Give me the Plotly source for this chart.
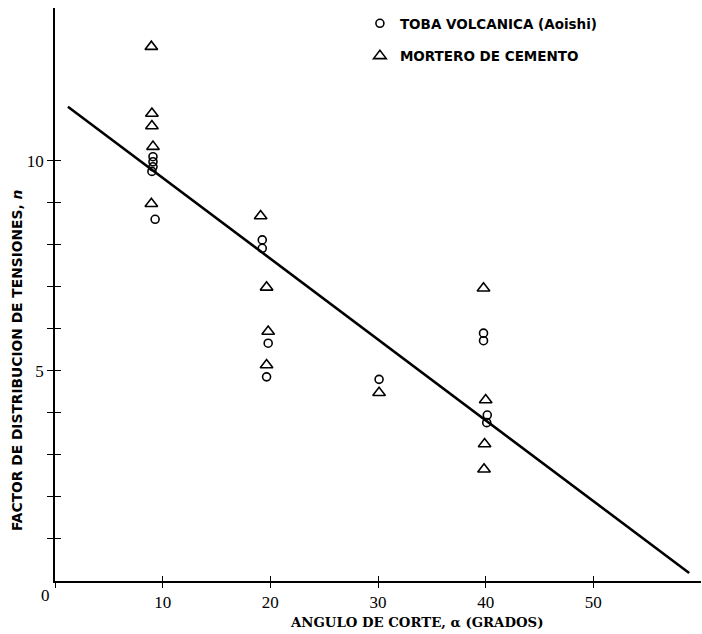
import plotly.graph_objects as go

# Data
toba_alpha = [9.1, 9.1, 9.1, 9.0, 9.3, 19.25, 19.25, 19.8, 19.65, 30.1, 39.8, 39.8, 40.15, 40.1]
toba_n = [10.10, 9.98, 9.86, 9.75, 8.61, 8.12, 7.92, 5.66, 4.86, 4.80, 5.90, 5.72, 3.95, 3.77]

mortero_alpha = [8.95, 9.0, 9.0, 9.1, 8.95, 19.1, 19.65, 19.8, 19.65, 30.1, 39.8, 40.0, 39.9, 39.85]
mortero_n = [12.72, 11.13, 10.83, 10.34, 8.98, 8.69, 6.99, 5.94, 5.14, 4.48, 6.97, 4.31, 3.26, 2.66]

fit_alpha = [1.2, 58.9]
fit_n = [11.29, 0.19]

x_tickvals = [0, 10, 20, 30, 40, 50]
x_ticktext = ["", "10", "20", "30", "40", "50"]
y_tickvals = [1, 2, 3, 4, 5, 6, 7, 8, 9, 10]
y_ticktext = ["", "", "", "", "5", "", "", "", "", "10"]

x_range = [0, 60]
y_range = [0, 13.64]

serif = "Liberation Serif"
sans = "DejaVu Sans"

fig = go.Figure()

fig.add_trace(go.Scatter(
    x=fit_alpha, y=fit_n, mode="lines",
    line=dict(color="black", width=2.6), showlegend=False, hoverinfo="skip"))

fig.add_trace(go.Scatter(
    x=toba_alpha, y=toba_n, mode="markers", name="<b>TOBA VOLCANICA (Aoishi)</b>",
    legendgroup="a",
    marker=dict(symbol="circle-open", size=8, color="black", line=dict(width=1.6))))

fig.add_trace(go.Scatter(
    x=mortero_alpha, y=mortero_n, mode="markers", name="<b>MORTERO DE CEMENTO</b>",
    legendgroup="b",
    marker=dict(symbol="triangle-up-open", size=11, color="black", line=dict(width=1.6))))

# empty trace for overlay axes (inner halves of crossing ticks)
fig.add_trace(go.Scatter(x=[None], y=[None], xaxis="x2", yaxis="y2",
                         showlegend=False, hoverinfo="skip"))

fig.update_layout(
    width=702, height=634,
    margin=dict(l=55, r=1, t=8, b=53),
    paper_bgcolor="white", plot_bgcolor="white",
    showlegend=True,
    legend=dict(x=0.472, y=1.0, xanchor="left", yanchor="top",
                font=dict(family=sans, size=13.5, color="black"),
                tracegroupgap=12, bgcolor="rgba(0,0,0,0)",
                itemsizing="trace"),
    xaxis=dict(range=x_range, tickvals=x_tickvals, ticktext=x_ticktext,
               showgrid=False, zeroline=False, showline=True, linecolor="black",
               linewidth=1.5, ticks="outside", ticklen=5, tickwidth=1.2,
               tickcolor="black", tickfont=dict(family=serif, size=17, color="black")),
    yaxis=dict(range=y_range, tickvals=y_tickvals, ticktext=y_ticktext,
               showgrid=False, zeroline=False, showline=True, linecolor="black",
               linewidth=1.8, ticks="outside", ticklen=6, tickwidth=1.2,
               tickcolor="black", tickfont=dict(family=serif, size=17, color="black")),
    xaxis2=dict(range=x_range, tickvals=x_tickvals[1:], overlaying="x", anchor="y2",
                showgrid=False, zeroline=False, showline=False, showticklabels=False,
                ticks="inside", ticklen=5, tickwidth=1.2, tickcolor="black"),
    yaxis2=dict(range=y_range, tickvals=y_tickvals, overlaying="y", anchor="x2", side="left",
                showgrid=False, zeroline=False, showline=False, showticklabels=False,
                ticks="inside", ticklen=6, tickwidth=1.2, tickcolor="black"),
    annotations=[
        dict(text="0", x=0, y=0, xref="x", yref="y", xanchor="right", yanchor="top",
             xshift=-3, yshift=-3, showarrow=False,
             font=dict(family=serif, size=17, color="black")),
        dict(text="<b>ANGULO DE CORTE, α (GRADOS)</b>", x=(416 - 55) / 646 * 60, y=-0.055,
             xref="x", yref="paper", xanchor="center", yanchor="top", showarrow=False,
             font=dict(family="DejaVu Serif", size=13.3, color="black")),
        dict(text="<b>FACTOR DE DISTRIBUCION DE TENSIONES, <i>n</i></b>", x=-0.058, y=5.25,
             xref="paper", yref="y", xanchor="center", yanchor="middle", textangle=-90,
             showarrow=False, font=dict(family=sans, size=13.8, color="black")),
    ],
)

fig.write_html("out.html")
